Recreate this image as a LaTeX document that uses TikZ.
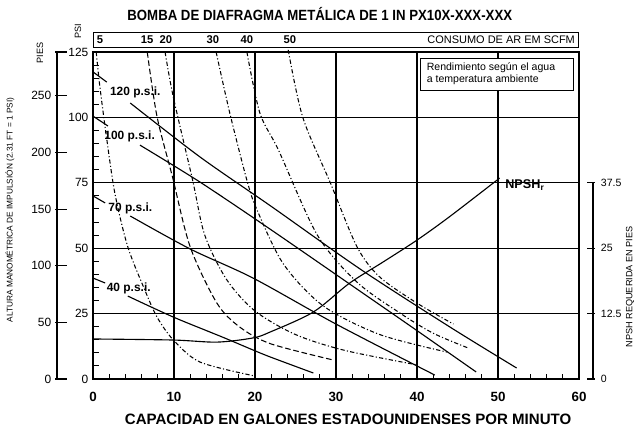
\documentclass[tikz,border=0pt]{standalone}
\usepackage{fontspec}
\setmainfont{Liberation Sans}
\usetikzlibrary{positioning}

\begin{document}
\begin{tikzpicture}[
        x=0.2025cm, y=0.0654cm,
        frame/.style={line width=1.9pt},
        gridline/.style={line width=0.9pt},
        psiline/.style={line width=0.8pt},
        scfmline/.style={line width=0.75pt, dash pattern=on 3pt off 1.6pt on 0.8pt off 1.6pt},
        scfmdash/.style={line width=0.75pt, dash pattern=on 4pt off 2pt},
        axnum/.style={font=\bfseries\fontsize{9.5}{10}\selectfont},
        barnum/.style={font=\bfseries\fontsize{8}{9}\selectfont},
        sidenum/.style={font=\fontsize{8.5}{9}\selectfont, anchor=east, inner sep=1pt},
        psilabel/.style={font=\bfseries\fontsize{8.5}{9}\selectfont, anchor=west, inner sep=1pt},
        small/.style={font=\fontsize{6.5}{7}\selectfont, inner sep=1pt}
    ]
        \useasboundingbox (-11.48,-19.5) rectangle (67.53,144.88);

        % Title
        \node[font=\bfseries\fontsize{9.4}{11}\selectfont, yscale=1.12] (title) at (28,139.5) {BOMBA DE DIAFRAGMA METÁLICA DE 1 IN PX10X-XXX-XXX};

        % Air consumption bar
        \draw[line width=0.6pt] (0,126.9) rectangle (59.9,132.6);
        \node[small, rotate=90] (psi) at (-1.85,133) {PSI};
        \node[barnum] (s5) at (0.86,129.8) {5};
        \node[barnum] (s15) at (6.67,129.8) {15};
        \node[barnum] (s20) at (9.0,129.8) {20};
        \node[barnum] (s30) at (14.8,129.8) {30};
        \node[barnum] (s40) at (19.0,129.8) {40};
        \node[barnum] (s50) at (24.3,129.8) {50};
        \node[small, anchor=east, font=\fontsize{7.8}{8}\selectfont] (consumo) at (59.7,129.8) {CONSUMO DE AR EM SCFM};

        % Grid
        \foreach \gx in {10,20,30,40,50}
            \draw[gridline] (\gx,0) -- (\gx,125);
        \foreach \gy in {25,50,75,100}
            \draw[gridline] (0,\gy) -- (60,\gy);

        % Minor ticks
        \foreach \ty in {5,10,...,120}
            \draw[line width=0.7pt] (0,\ty) -- (0.75,\ty);
        \foreach \tx in {2,4,...,58}
            \draw[line width=0.7pt] (\tx,0) -- (\tx,1.9);

        % Frame
        \draw[frame] (0,0) rectangle (60,125);

        % Note
        \node[draw, fill=white, line width=0.6pt, minimum width=3.83cm, minimum height=0.8cm] (note) at (49.85,116.6) {};
        \node[small, font=\fontsize{7.5}{8.6}\selectfont, align=left, anchor=north west] (notetext) at (41.0,121.7) {Rendimiento según el agua\\a temperatura ambiente};

        % PSI axis
        \foreach \p in {0,25,50,75,100,125}
            \node[sidenum] at (-0.37,\p) {\p};

        % Feet axis
        \draw[line width=0.8pt] (-4.44,0) -- (-4.44,125);
        \draw[line width=0.8pt] (-4.69,125) -- (-3.21,125);
        \foreach \ft/\fp in {0/0,50/21.65,100/43.29,150/64.94,200/86.58,250/108.23} {
            \draw[line width=0.8pt] (-4.69,\fp) -- (-3.21,\fp);
            \node[sidenum] at (-4.94,\fp) {\ft};
        }
        \node[small, rotate=90] (pies) at (-6.54,124.6) {PIES};
        \node[small, font=\fontsize{5.9}{7}\selectfont, rotate=90] (altura) at (-10.25,64.6) {ALTURA MANOMÉTRICA DE IMPULSIÓN (2.31 FT = 1 PSI)};

        % NPSH axis
        \draw[line width=0.8pt] (61.73,0) -- (61.73,75);
        \foreach \n/\np in {0/0,12.5/25,25/50,37.5/75} {
            \draw[line width=0.8pt] (61.0,\np) -- (62.0,\np);
            \node[small, font=\fontsize{7.5}{8}\selectfont, anchor=west] at (62.5,\np) {\n};
        }
        \node[small, rotate=90] (npshaxis) at (66.3,35.2) {NPSH REQUERIDA EN PIES};

        % X axis
        \foreach \cx in {0,10,...,60}
            \node[axnum] at (\cx,-6.9) {\cx};
        \node[font=\bfseries\fontsize{10.7}{11}\selectfont] (capacidad) at (31.5,-15.3) {CAPACIDAD EN GALONES ESTADOUNIDENSES POR MINUTO};

        % Air consumption curves
        \draw[scfmline] plot[smooth] coordinates {(0.4,125) (0.8,113) (1.6,94) (2.7,71) (4.3,50.5) (6.4,34) (7.9,23.7) (9.9,15) (13.2,6.5) (19.75,1.3)};
        \draw[scfmdash] plot[smooth] coordinates {(6.7,125) (7.9,100.4) (9.8,77.4) (12,50.5) (15.3,29) (18.1,19.9) (21.9,13.5) (29.6,7.3)};
        \draw[scfmline] plot[smooth] coordinates {(8.9,125) (9.9,108) (12.3,76) (13.8,55) (16.5,38) (20,26) (25,17) (31,11) (40,5.4)};
        \draw[scfmline] plot[smooth] coordinates {(15.2,125) (16.9,101.5) (19.0,76) (20.2,65) (23.5,44) (28.4,28) (35.4,17) (43.7,10.3)};
        \draw[scfmline] plot[smooth] coordinates {(19.0,125) (20.6,101.7) (22.9,87.5) (27.7,55) (32.6,37) (38,25) (42,17.5) (46.2,12)};
        \draw[scfmline] plot[smooth] coordinates {(24.1,125.8) (25.9,100) (29.3,75) (32.6,50.5) (35.4,39) (40,29) (44.5,21)};

        % Pressure curves
        \draw[psiline] (0,117.4) -- (1.7,113.5);
        \node[psilabel] (p120) at (1.9,109.7) {120 p.s.i.};
        \draw[psiline] plot[smooth] coordinates {(4.6,105.5) (13.2,84.9) (22,66) (33,42) (44,20) (52.3,4.2)};

        \draw[psiline] (0,100.5) -- (1.85,96.7);
        \node[psilabel] (p100) at (1.2,92.9) {100 p.s.i.};
        \draw[psiline] plot[smooth] coordinates {(5.8,89.4) (13.2,75.3) (22,57) (33,33.5) (40,18.5) (47.3,2.7)};

        \draw[psiline] (0,70) -- (1.5,67.3);
        \node[psilabel] (p70) at (1.7,65.4) {70 p.s.i.};
        \draw[psiline] plot[smooth] coordinates {(4.6,62.3) (12,49.7) (19.75,38.6) (30,21) (42.2,1.5)};

        \draw[psiline] (0,38.6) -- (1.5,36.7);
        \node[psilabel] (p40) at (1.5,34.8) {40 p.s.i.};
        \draw[psiline] plot[smooth] coordinates {(4.3,31.7) (9.9,23.7) (16,16) (19.75,11.1) (21.9,8.4) (27.2,2.3)};

        % NPSH curve
        \draw[psiline] plot[smooth] coordinates {(0,15.3) (9.9,14.9) (15.3,14.1) (19.75,15.7) (21.9,18) (27.2,25.6) (31.7,36.7) (35.8,44.7) (40,53.1) (44,62) (50.2,76.8)};
        \node[psilabel, font=\bfseries\fontsize{9}{10}\selectfont] (npsh) at (50.7,74.2) {NPSH\textsubscript{r}};
    \end{tikzpicture}
\end{document}
